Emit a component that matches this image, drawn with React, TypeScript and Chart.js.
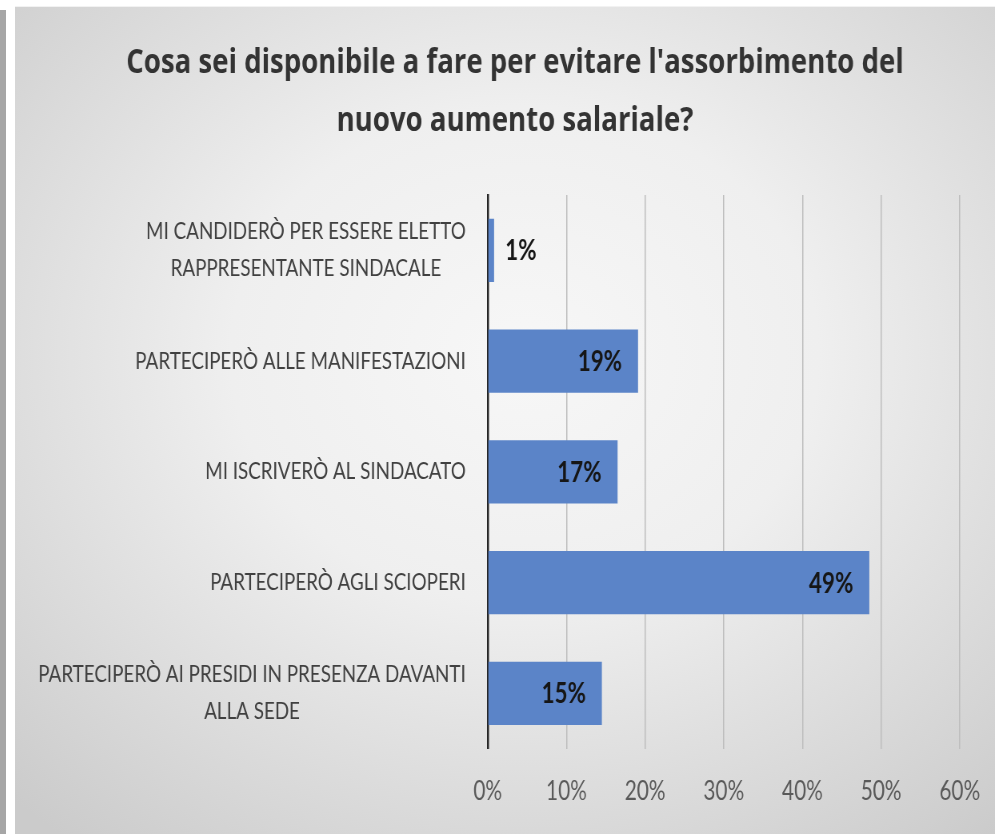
import React, { useEffect, useRef } from 'react';
import { Chart, registerables } from 'chart.js';

Chart.register(...registerables);

// ---- data ----
const TITLE_LINES = [
  "Cosa sei disponibile a fare per evitare l'assorbimento del",
  'nuovo aumento salariale?',
];
const CATEGORIES: string[][] = [
  ['MI CANDIDERÒ PER ESSERE ELETTO', 'RAPPRESENTANTE SINDACALE'],
  ['PARTECIPERÒ ALLE MANIFESTAZIONI'],
  ['MI ISCRIVERÒ AL SINDACATO'],
  ['PARTECIPERÒ AGLI SCIOPERI'],
  ['PARTECIPERÒ AI PRESIDI IN PRESENZA DAVANTI', 'ALLA SEDE'],
];
const VALUES = [0.8, 19.1, 16.5, 48.5, 14.5];
const X_MIN = 0;
const X_MAX = 60;
const X_STEP = 10;

// ---- look ----
const FONT = 'Lato, "Open Sans", sans-serif';
const TITLE_FONT = '"Open Sans", Lato, sans-serif';
const K = 0.8; // horizontal squeeze of the picture
const CSS_W = 980;
const CSS_H = 828;
const W = Math.round(CSS_W / K);
const H = CSS_H;

const labelPlugin = {
  id: 'customLabels',
  afterDatasetsDraw(chart: any) {
    const ctx = chart.ctx as CanvasRenderingContext2D;
    const yScale = chart.scales.y;
    const meta = chart.getDatasetMeta(0);
    ctx.save();
    // value labels
    ctx.font = `bold 28px ${FONT}`;
    ctx.fillStyle = '#161616';
    ctx.textBaseline = 'middle';
    meta.data.forEach((bar: any, i: number) => {
      const txt = Math.round(VALUES[i]) + '%';
      const w = ctx.measureText(txt).width;
      const len = bar.x - bar.base;
      if (len > w + 30) {
        ctx.textAlign = 'right';
        ctx.fillText(txt, bar.x - 20, bar.y + 1);
      } else {
        ctx.textAlign = 'left';
        ctx.fillText(txt, bar.x + 14, bar.y + 1);
      }
    });
    // category labels: block right-aligned, lines centred among themselves
    ctx.font = `23.5px ${FONT}`;
    ctx.fillStyle = '#404040';
    ctx.textAlign = 'center';
    const right = chart.chartArea.left - 27.5;
    const lh = 37;
    CATEGORIES.forEach((lines, i) => {
      const cy = yScale.getPixelForTick(i);
      const maxW = Math.max(...lines.map((l) => ctx.measureText(l).width));
      const cx = right - maxW / 2;
      lines.forEach((l, j) => {
        ctx.fillText(l, cx, cy + (j - (lines.length - 1) / 2) * lh);
      });
    });
    ctx.restore();
  },
};

function BarChart() {
  const ref = useRef<HTMLCanvasElement | null>(null);
  useEffect(() => {
    if (!ref.current) return;
    const chart = new Chart(ref.current, {
      type: 'bar',
      data: {
        labels: CATEGORIES,
        datasets: [
          {
            data: VALUES,
            backgroundColor: '#5b84c8',
            borderWidth: 0,
            barPercentage: 0.57,
            categoryPercentage: 1,
          },
        ],
      },
      options: {
        indexAxis: 'y',
        animation: false,
        responsive: false,
        devicePixelRatio: 1,
        layout: { padding: { top: 0, left: 69, right: 44, bottom: 0 } },
        plugins: {
          legend: { display: false },
          tooltip: { enabled: false },
          title: {
            display: true,
            text: TITLE_LINES,
            color: '#333333',
            font: { family: TITLE_FONT, size: 34.5, weight: 'bold', lineHeight: '58px' },
            padding: { top: 27, bottom: 45 },
          },
        },
        scales: {
          x: {
            min: X_MIN,
            max: X_MAX,
            ticks: {
              stepSize: X_STEP,
              color: '#595959',
              font: { family: FONT, size: 26 },
              padding: 27.5,
              callback: (v: any) => v + '%',
            },
            grid: { color: '#bdbdbd', lineWidth: 1.5, drawTicks: false },
            border: { display: false },
            afterFit: (scale: any) => {
              scale.paddingLeft = 0;
              scale.paddingRight = 0;
            },
          },
          y: {
            ticks: { display: false },
            grid: { display: false, drawTicks: false },
            border: { display: true, color: '#262626', width: 2.5 },
            afterFit: (scale: any) => {
              scale.width = 522;
            },
          },
        },
      },
      plugins: [labelPlugin],
    });
    return () => chart.destroy();
  }, []);
  return (
    <canvas
      ref={ref}
      width={W}
      height={H}
      style={{ width: CSS_W + 'px', height: CSS_H + 'px', display: 'block' }}
    />
  );
}

export default function App() {
  return (
    <div
      style={{
        position: 'fixed',
        left: 0,
        top: 0,
        width: 995,
        height: 834,
        background: '#ffffff',
        overflow: 'hidden',
      }}
    >
      <div
        style={{
          position: 'absolute',
          left: 0,
          top: 10,
          width: 6,
          height: 824,
          background: '#a6a6a6',
        }}
      />
      <div
        style={{
          position: 'absolute',
          left: 15,
          top: 6,
          width: CSS_W,
          height: CSS_H,
          background:
            'radial-gradient(ellipse 75% 75% at 52% 42%, #f7f7f7 0%, #efefef 40%, #dadada 75%, #cbcbcb 100%)',
          borderTop: '1px solid #f2f2f2',
          boxSizing: 'border-box',
        }}
      >
        <BarChart />
      </div>
    </div>
  );
}
